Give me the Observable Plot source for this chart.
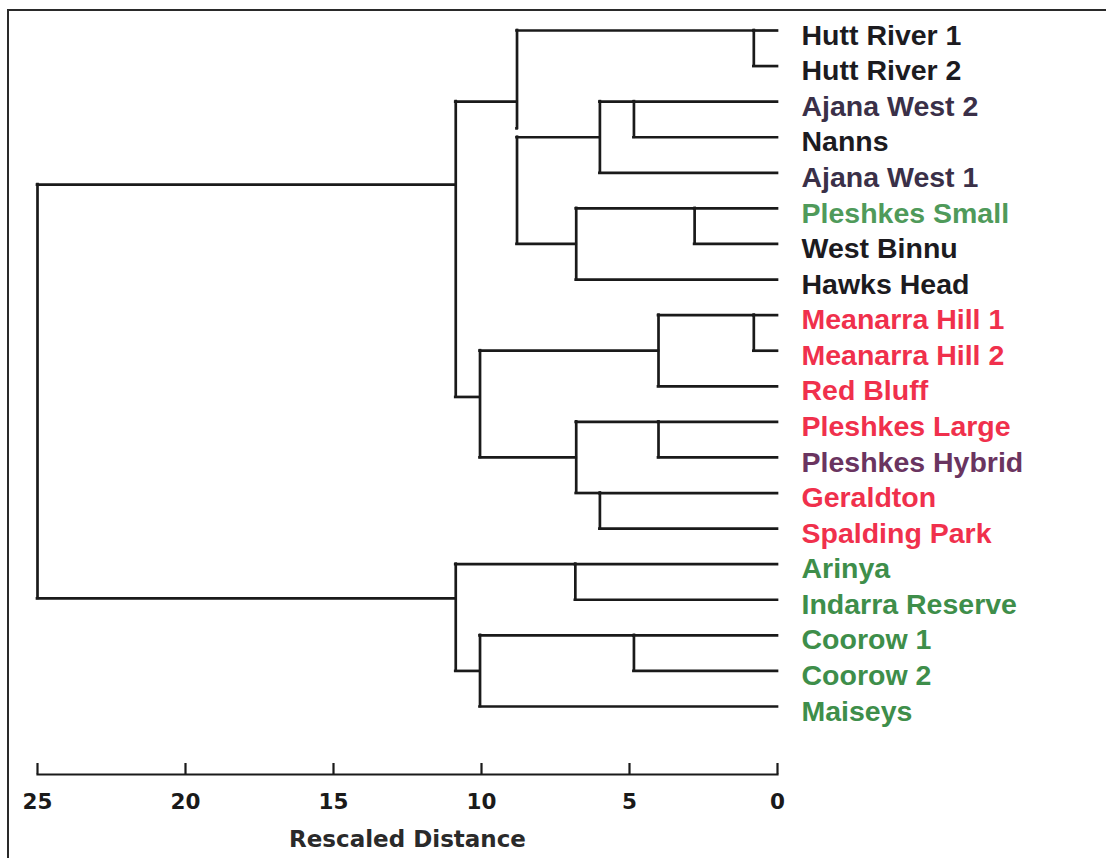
<!DOCTYPE html>
<html>
<head>
<meta charset="utf-8">
<script src="https://cdn.jsdelivr.net/npm/d3@7"></script>
<script src="https://cdn.jsdelivr.net/npm/@observablehq/plot@0.6"></script>
<style>
  html, body { margin: 0; padding: 0; background: #fff; overflow: hidden; }
  #wrap { position: relative; width: 1106px; height: 858px; overflow: hidden; background: #fff; }
  #chart { position: absolute; left: 0; top: 0; }
  #border { position: absolute; left: 7px; top: 9px; width: 1300px; height: 1000px;
            border-left: 2px solid #2a2a2a; border-top: 2px solid #2a2a2a; pointer-events: none; }
</style>
</head>
<body>
<div id="wrap"><div id="chart"></div><div id="border"></div></div>
<script>
// Leaves (top to bottom) and their label colours
const leaves = [
  "Hutt River 1", "Hutt River 2", "Ajana West 2", "Nanns", "Ajana West 1",
  "Pleshkes Small", "West Binnu", "Hawks Head", "Meanarra Hill 1", "Meanarra Hill 2",
  "Red Bluff", "Pleshkes Large", "Pleshkes Hybrid", "Geraldton", "Spalding Park",
  "Arinya", "Indarra Reserve", "Coorow 1", "Coorow 2", "Maiseys"
];
const leafColors = [
  "#1c1b1f", "#1c1b1f", "#3a3048", "#1c1b1f", "#3a3048",
  "#4f9a5a", "#1c1b1f", "#1c1b1f", "#f0304c", "#f0304c",
  "#f0304c", "#f0304c", "#6a3460", "#f0304c", "#f0304c",
  "#3e8e4a", "#3e8e4a", "#3e8e4a", "#3e8e4a", "#3e8e4a"
];

// Agglomeration steps: children (leaf name or "m#"), rescaled distance, row of the joined branch
const mergeA = ["Hutt River 1", "Ajana West 2", "m1", "Pleshkes Small", "m3", "m2", "m0",
  "Meanarra Hill 1", "m7", "Pleshkes Large", "Geraldton", "m9", "m8", "m6",
  "Arinya", "Coorow 1", "m15", "m14", "m13"];
const mergeB = ["Hutt River 2", "Nanns", "Ajana West 1", "West Binnu", "Hawks Head", "m4", "m5",
  "Meanarra Hill 2", "Red Bluff", "Pleshkes Hybrid", "Spalding Park", "m10", "m11", "m12",
  "Indarra Reserve", "Coorow 2", "Maiseys", "m16", "m17"];
const mergeDist = [0.8, 4.85, 6.0, 2.8, 6.8, 8.8, 8.8,
  0.8, 4.02, 4.02, 6.0, 6.8, 10.05, 10.87,
  6.83, 4.85, 10.05, 10.87, 25];
const mergeRow = [0, 2, 3, 5, 6, 2.75, 2,
  8, 9, 11, 13, 12, 10.3, 4.33,
  15, 17, 18, 15.96, null];

const distTicks = [25, 20, 15, 10, 5, 0];
const axisTitle = "Rescaled Distance";

// Build segments from the tree
const node = id => id.startsWith("m")
  ? {d: mergeDist[+id.slice(1)], row: mergeRow[+id.slice(1)]}
  : {d: 0, row: leaves.indexOf(id)};

const verticals = mergeDist.map((d, k) => ({d, r1: node(mergeA[k]).row, r2: node(mergeB[k]).row}));
const horizontals = mergeDist.flatMap((d, k) => [mergeA[k], mergeB[k]].map(c => {
  const n = node(c);
  return {r: n.row, d1: n.d, d2: d};
}));

const lineColor = "#1a1a1a";

const chart = Plot.plot({
  width: 1106,
  height: 858,
  marginLeft: 37,
  marginRight: 329,
  marginTop: 0,
  marginBottom: 84,
  x: {domain: [25, 0]},
  y: {domain: [0, 19], range: [30, 706], axis: null},
  color: {type: "identity"},
  style: {background: "#fff", overflow: "visible"},
  marks: [
    Plot.ruleY(horizontals, {y: "r", x1: "d1", x2: "d2", stroke: lineColor, strokeWidth: 2.7, strokeLinecap: "square"}),
    Plot.ruleX(verticals, {x: "d", y1: "r1", y2: "r2", stroke: lineColor, strokeWidth: 2.7, strokeLinecap: "square"}),
    Plot.text(leaves, {
      x: () => 0, y: (d, i) => i, text: d => d, fill: (d, i) => leafColors[i],
      textAnchor: "start", dx: 24, dy: 5, fontSize: 28.5, fontWeight: "bold",
      fontFamily: "'Liberation Sans', Arial, sans-serif"
    }),
    Plot.frame({anchor: "bottom", stroke: lineColor, strokeWidth: 2.2}),
    Plot.axisX(distTicks, {
      anchor: "bottom", tickSize: 11, dy: -11, tickPadding: 19,
      color: lineColor, strokeWidth: 2.2,
      fontSize: 21.5, fontWeight: "bold", fontFamily: "'DejaVu Sans', sans-serif",
      label: null
    }),
    Plot.axisX([], {
      anchor: "bottom", tickSize: 0, color: "#2a2a2a",
      fontSize: 23, fontWeight: "bold", fontFamily: "'DejaVu Sans', sans-serif",
      label: axisTitle, labelAnchor: "center", labelArrow: "none", labelOffset: 72
    })
  ]
});

document.getElementById("chart").appendChild(chart);
</script>
</body>
</html>
